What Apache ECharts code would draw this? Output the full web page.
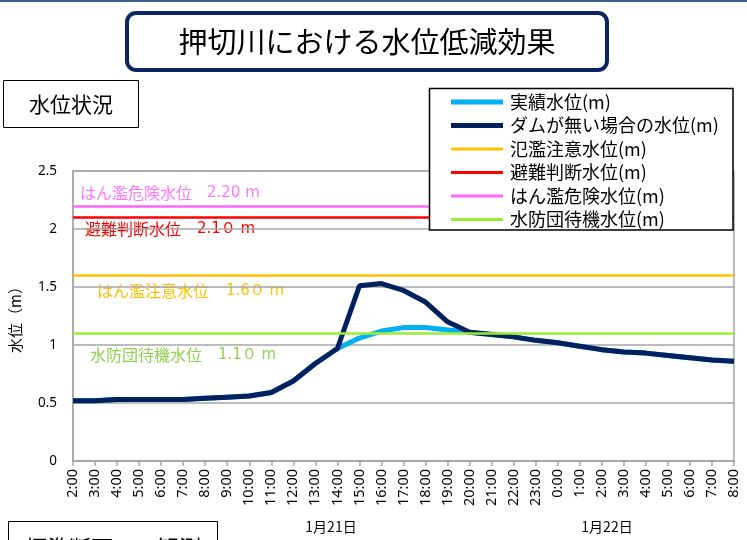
<!DOCTYPE html>
<html>
<head>
<meta charset="utf-8">
<script src="https://cdn.jsdelivr.net/npm/echarts@6/dist/echarts.min.js"></script>
<style>html,body{margin:0;padding:0;background:#fff;}#c{width:747px;height:540px;}</style>
</head>
<body>
<div id="c"></div>
<script>
const categories = ['2:00','3:00','4:00','5:00','6:00','7:00','8:00','9:00','10:00','11:00','12:00','13:00','14:00','15:00','16:00','17:00','18:00','19:00','20:00','21:00','22:00','23:00','0:00','1:00','2:00','3:00','4:00','5:00','6:00','7:00','8:00'];
const actualLevel = [0.52,0.52,0.53,0.53,0.53,0.53,0.54,0.55,0.56,0.59,0.69,0.84,0.97,1.06,1.12,1.15,1.15,1.13,1.11,1.09,1.07,1.04,1.02,0.99,0.96,0.94,0.93,0.91,0.89,0.87,0.86];
const noDamLevel = [0.52,0.52,0.53,0.53,0.53,0.53,0.54,0.55,0.56,0.59,0.69,0.84,0.97,1.51,1.53,1.47,1.37,1.20,1.11,1.09,1.07,1.04,1.02,0.99,0.96,0.94,0.93,0.91,0.89,0.87,0.86];
const thresholdNames = ['氾濫注意水位(m)','避難判断水位(m)','はん濫危険水位(m)','水防団待機水位(m)'];
const thresholdValues = [1.60, 2.10, 2.20, 1.10];
const thresholdColors = ['#FFC000','#FF0000','#FF66FF','#99EE33'];
const thresholdLabels = ['はん濫注意水位','避難判断水位','はん濫危険水位','水防団待機水位'];
const thresholdLabelValues = ['1.6０ m','2.1０ m','2.20 m','1.1０ m'];
const yTicks = [0, 0.5, 1, 1.5, 2, 2.5];

const FONT = '"Noto Sans CJK JP", "Noto Sans", sans-serif';
const chart = echarts.init(document.getElementById('c'));

const thresholdSeries = thresholdNames.map((n, i) => ({
  name: n, type: 'line', data: [], z: 2,
  itemStyle: { color: thresholdColors[i] },
  lineStyle: { color: thresholdColors[i], width: 2.5 },
  markLine: {
    silent: true, symbol: 'none', animation: false,
    label: { show: false },
    lineStyle: { color: thresholdColors[i], width: 2.5, type: 'solid' },
    data: [{ yAxis: thresholdValues[i] }]
  }
}));

const thickIcon = 'path://M0,0h52v5h-52z';
const thinIcon = 'path://M0,0h52v3h-52z';

// label text positions (layout only)
const labelPos = [
  { x: 97, nx: 226, y: 291, color: '#FFC000' },
  { x: 85, nx: 197, y: 229, color: '#FF0000' },
  { x: 80, nx: 207, y: 193, color: '#FF77FF' },
  { x: 90, nx: 218, y: 355, color: '#92D050' }
];
const labelGraphics = [];
labelPos.forEach((p, i) => {
  labelGraphics.push({ type: 'text', x: p.x, y: p.y, silent: true,
    style: { text: thresholdLabels[i], font: '16px ' + FONT, fill: p.color, verticalAlign: 'middle' } });
  labelGraphics.push({ type: 'text', x: p.nx, y: p.y, silent: true,
    style: { text: thresholdLabelValues[i], font: '15px "DejaVu Sans", ' + FONT, fill: p.color, verticalAlign: 'middle' } });
});

const option = {
  animation: false,
  textStyle: { fontFamily: FONT },
  grid: { left: 68, right: 13, top: 171, bottom: 79, show: true, borderColor: '#A6A6A6', borderWidth: 1.5 },
  legend: {
    orient: 'vertical', left: 451, top: 93, z: 20, padding: 0,
    itemWidth: 52, itemHeight: 14, itemGap: 5.5,
    textStyle: { fontSize: 18, color: '#000', fontFamily: FONT, lineHeight: 14, padding: [0, 0, 0, 2] },
    data: [
      { name: '実績水位(m)', icon: thickIcon, itemStyle: { color: '#00B0F0' } },
      { name: 'ダムが無い場合の水位(m)', icon: thickIcon, itemStyle: { color: '#002060' } },
      { name: thresholdNames[0], icon: thinIcon },
      { name: thresholdNames[1], icon: thinIcon },
      { name: thresholdNames[2], icon: thinIcon },
      { name: thresholdNames[3], icon: thinIcon }
    ]
  },
  xAxis: {
    type: 'category', data: categories, boundaryGap: false,
    axisLine: { lineStyle: { color: '#A6A6A6', width: 1.5 } },
    axisTick: { show: true, interval: 0, lineStyle: { color: '#A6A6A6', width: 1.5 }, length: 5 },
    axisLabel: { interval: 0, rotate: 90, fontSize: 14.5, color: '#000', fontFamily: '"Noto Sans", sans-serif', margin: 8 },
    splitLine: { show: false }
  },
  yAxis: {
    type: 'value', min: 0, max: 2.5, interval: 0.5,
    name: '水位（m）', nameLocation: 'middle', nameGap: 50, nameRotate: 90,
    nameTextStyle: { fontSize: 15, color: '#000', fontFamily: FONT },
    axisLine: { show: true, lineStyle: { color: '#A6A6A6', width: 1.5 } },
    axisTick: { show: false },
    axisLabel: { fontSize: 13.5, color: '#000', fontFamily: '"Noto Sans", sans-serif', margin: 16,
      formatter: v => (yTicks.includes(v) ? String(v) : '') },
    splitLine: { show: true, lineStyle: { color: '#A6A6A6', width: 1.5 } }
  },
  series: [
    { name: '実績水位(m)', type: 'line', data: actualLevel, symbol: 'none', z: 3,
      itemStyle: { color: '#00B0F0' }, lineStyle: { color: '#00B0F0', width: 5 } },
    { name: 'ダムが無い場合の水位(m)', type: 'line', data: noDamLevel, symbol: 'none', z: 4,
      itemStyle: { color: '#002060' }, lineStyle: { color: '#002060', width: 5 } },
    ...thresholdSeries
  ],
  graphic: [
    { type: 'rect', shape: { x: 0, y: 0, width: 747, height: 2 }, style: { fill: '#3F5F8F' }, silent: true },
    { type: 'rect', shape: { x: 127, y: 13, width: 480, height: 57, r: 9 }, style: { fill: '#fff', stroke: '#0C2461', lineWidth: 4 }, silent: true },
    { type: 'text', x: 367, y: 42, style: { text: '押切川における水位低減効果', font: '29px ' + FONT, fill: '#000', align: 'center', verticalAlign: 'middle' }, silent: true },
    { type: 'rect', shape: { x: 3.5, y: 80.5, width: 135, height: 47 }, style: { fill: '#fff', stroke: '#000', lineWidth: 1 }, silent: true },
    { type: 'text', x: 71, y: 104, style: { text: '水位状況', font: '21px ' + FONT, fill: '#000', align: 'center', verticalAlign: 'middle' }, silent: true },
    { type: 'rect', z: 10, shape: { x: 429.5, y: 88.5, width: 303.5, height: 141.5 }, style: { fill: '#fff', stroke: '#000', lineWidth: 1.5 }, silent: true },
    ...labelGraphics,
    { type: 'text', x: 331, y: 527, style: { text: '1月21日', font: '14px ' + FONT, fill: '#000', align: 'center', verticalAlign: 'middle' }, silent: true },
    { type: 'text', x: 607, y: 527, style: { text: '1月22日', font: '14px ' + FONT, fill: '#000', align: 'center', verticalAlign: 'middle' }, silent: true },
    { type: 'rect', shape: { x: 8.5, y: 521.5, width: 209, height: 40 }, style: { fill: '#fff', stroke: '#000', lineWidth: 1 }, silent: true },
    { type: 'text', x: 113, y: 537, style: { text: '標準断面での観測', font: '22px ' + FONT, fill: '#000', align: 'center', verticalAlign: 'top' }, silent: true }
  ]
};
chart.setOption(option);
</script>
</body>
</html>
